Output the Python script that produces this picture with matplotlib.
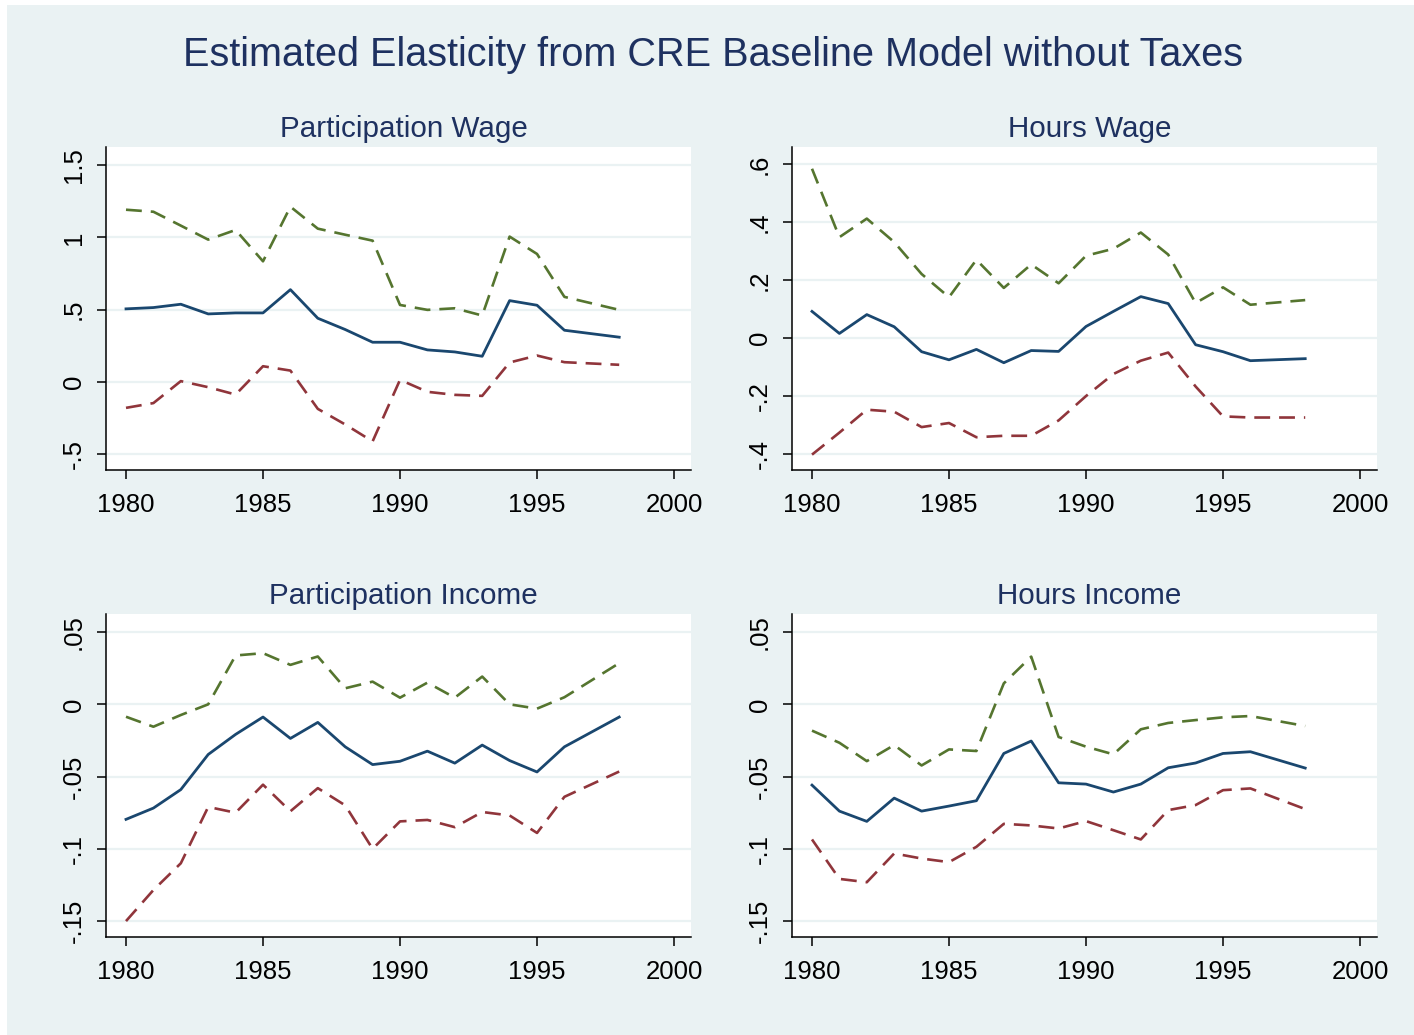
import numpy as np
import matplotlib
matplotlib.use('Agg')
import matplotlib.pyplot as plt
from matplotlib.patches import Rectangle

plt.rcParams['font.family'] = ['Liberation Sans', 'DejaVu Sans']

years = [1980, 1981, 1982, 1983, 1984, 1985, 1986, 1987, 1988, 1989,
         1990, 1991, 1992, 1993, 1994, 1995, 1996, 1998]

# Participation Wage
pw_est = [0.505, 0.514, 0.537, 0.470, 0.477, 0.477, 0.638, 0.440, 0.362, 0.274,
          0.274, 0.221, 0.207, 0.177, 0.562, 0.530, 0.357, 0.309]
pw_hi = [1.191, 1.177, 1.081, 0.984, 1.051, 0.834, 1.212, 1.060, 1.018, 0.977,
         0.532, 0.498, 0.509, 0.459, 1.005, 0.885, 0.588, 0.498]
pw_lo = [-0.180, -0.147, 0.005, -0.037, -0.088, 0.108, 0.078, -0.187, -0.295, -0.412,
         0.014, -0.069, -0.090, -0.097, 0.134, 0.182, 0.136, 0.118]

# Hours Wage
hw_est = [0.092, 0.016, 0.081, 0.039, -0.047, -0.075, -0.039, -0.085, -0.043, -0.046,
          0.040, 0.092, 0.143, 0.119, -0.023, -0.047, -0.078, -0.071]
hw_hi = [0.584, 0.348, 0.412, 0.331, 0.221, 0.141, 0.270, 0.173, 0.254, 0.189,
         0.284, 0.308, 0.364, 0.288, 0.121, 0.175, 0.115, 0.131]
hw_lo = [-0.402, -0.326, -0.247, -0.254, -0.307, -0.293, -0.342, -0.337, -0.337, -0.284,
         -0.200, -0.124, -0.078, -0.050, -0.167, -0.270, -0.274, -0.274]

# Participation Income
pi_est = [-0.0796, -0.0718, -0.0590, -0.0347, -0.0208, -0.0088, -0.0236, -0.0125, -0.0294, -0.0417,
          -0.0394, -0.0324, -0.0407, -0.0282, -0.0389, -0.0468, -0.0294, -0.0088]
pi_hi = [-0.0086, -0.0155, -0.0074, 0.0000, 0.0338, 0.0354, 0.0273, 0.0331, 0.0111, 0.0157,
         0.0046, 0.0150, 0.0046, 0.0192, 0.0000, -0.0030, 0.0049, 0.0285]
pi_lo = [-0.1500, -0.1285, -0.1100, -0.0710, -0.0750, -0.0556, -0.0740, -0.0580, -0.0699, -0.1000,
         -0.0810, -0.0800, -0.0850, -0.0745, -0.0769, -0.0890, -0.0640, -0.0465]

# Hours Income
hi_est = [-0.0559, -0.0739, -0.0810, -0.0649, -0.0739, -0.0704, -0.0667, -0.0340, -0.0254, -0.0543,
          -0.0552, -0.0607, -0.0552, -0.0439, -0.0406, -0.0340, -0.0328, -0.0441]
hi_hi = [-0.0182, -0.0266, -0.0393, -0.0282, -0.0423, -0.0312, -0.0323, 0.0145, 0.0330, -0.0226,
         -0.0293, -0.0346, -0.0173, -0.0129, -0.0109, -0.0090, -0.0081, -0.0150]
hi_lo = [-0.0935, -0.1208, -0.1231, -0.1032, -0.1067, -0.1092, -0.0986, -0.0827, -0.0838, -0.0859,
         -0.0808, -0.0871, -0.0935, -0.0732, -0.0697, -0.0594, -0.0582, -0.0725]

xticks = [1980, 1985, 1990, 1995, 2000]
wage_p_ticks = [1.5, 1, 0.5, 0, -0.5]
wage_p_labels = ['1.5', '1', '.5', '0', '-.5']
wage_h_ticks = [0.6, 0.4, 0.2, 0, -0.2, -0.4]
wage_h_labels = ['.6', '.4', '.2', '0', '-.2', '-.4']
inc_ticks = [0.05, 0, -0.05, -0.1, -0.15]
inc_labels = ['.05', '0', '-.05', '-.1', '-.15']

bg = '#EAF2F3'
navy = '#1A476F'
green = '#55752F'
red = '#90353B'
title_col = '#1E3160'

W, H = 1414, 1035
fig = plt.figure(figsize=(W / 100, H / 100), dpi=100, facecolor='white')
fig.patches.append(Rectangle((7 / W, 0), 1 - 7 / W, 1 - 5 / H, transform=fig.transFigure,
                             facecolor=bg, edgecolor='none', zorder=-10))

fig.text(713 / W, 1 - 55 / H, 'Estimated Elasticity from CRE Baseline Model without Taxes',
         ha='center', va='center', fontsize=28.5, color=title_col)

panels = [
    ('Participation Wage', 106, 147, pw_est, pw_hi, pw_lo, wage_p_ticks, wage_p_labels, (-0.61, 1.625)),
    ('Hours Wage', 792, 147, hw_est, hw_hi, hw_lo, wage_h_ticks, wage_h_labels, (-0.455, 0.659)),
    ('Participation Income', 106, 614, pi_est, pi_hi, pi_lo, inc_ticks, inc_labels, (-0.161, 0.0625)),
    ('Hours Income', 792, 614, hi_est, hi_hi, hi_lo, inc_ticks, inc_labels, (-0.161, 0.0625)),
]

for title, left, top, est, hi, lo, yt, ytl, ylim in panels:
    ax = fig.add_axes([left / W, 1 - (top + 323) / H, 585 / W, 323 / H])
    ax.set_facecolor('white')
    ax.plot(years, est, color=navy, lw=2.0)
    ax.plot(years, hi, color=green, lw=1.9, dashes=(6, 3.4))
    ax.plot(years, lo, color=red, lw=1.9, dashes=(6, 3.4))
    ax.set_xlim(1979.27, 2000.62)
    ax.set_ylim(*ylim)
    ax.set_xticks(xticks)
    ax.set_xticklabels([str(x) for x in xticks])
    ax.set_yticks(yt)
    ax.set_yticklabels(ytl, rotation=90, va='center')
    for t in ax.get_yticklabels():
        t.set_rotation_mode('anchor')
    ax.grid(axis='y', color=bg, lw=1.6)
    ax.set_axisbelow(True)
    for s in ['top', 'right']:
        ax.spines[s].set_visible(False)
    for s in ['left', 'bottom']:
        ax.spines[s].set_color('black')
        ax.spines[s].set_linewidth(1.1)
    ax.tick_params(axis='both', direction='out', length=6.5, width=1.1, labelsize=18.5,
                   colors='black')
    ax.tick_params(axis='x', pad=10)
    ax.tick_params(axis='y', pad=8)
    for t in ax.get_yticklabels():
        t.set_ha('center')
        t.set_va('bottom')
    ax.text(0.5 + 5 / 585, 1 + 18 / 323, title, transform=ax.transAxes, ha='center',
            va='center', fontsize=21.3, color=title_col)

fig.savefig('out.png', dpi=100, facecolor=fig.get_facecolor())
